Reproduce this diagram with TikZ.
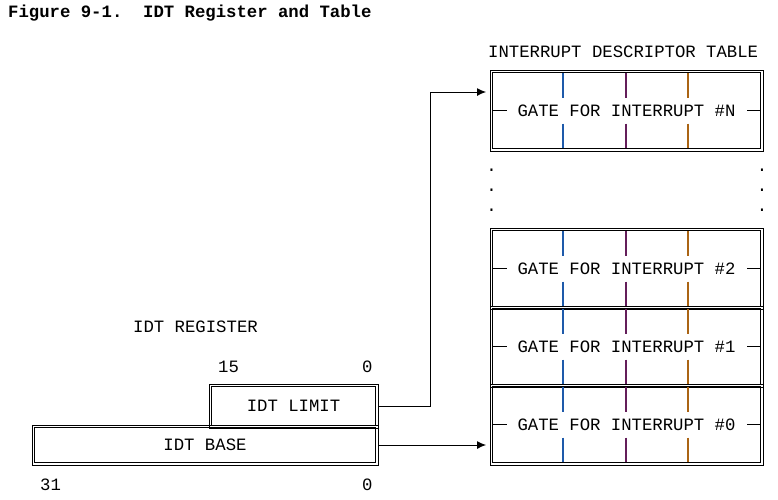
\documentclass[tikz,border=0pt]{standalone}
\usepackage{fontspec}
\setmonofont{Liberation Mono}
\usepackage{tikz}
\usetikzlibrary{arrows.meta}
\definecolor{divColorA}{RGB}{30,90,170}
\definecolor{divColorB}{RGB}{100,30,90}
\definecolor{divColorC}{RGB}{170,100,20}
\begin{document}
\begin{tikzpicture}[x=1pt, y=1pt, font=\ttfamily\fontsize{17.3}{20}\selectfont]

          \tikzstyle{plainLabel} = [inner sep=0pt, anchor=base west];
          \tikzstyle{frameBox} = [draw, line width=0.9pt, inner sep=0pt];
          \tikzstyle{regBox} = [frameBox];
          \tikzstyle{gateBox} = [frameBox, minimum width=273pt, minimum height=81pt];
          \tikzstyle{innerFrame} = [line width=0.9pt];
          \tikzstyle{dotMark} = [inner sep=0pt, anchor=base];

          \tikzstyle{linkEdge} = [line width=0.9pt, -{Latex[length=9pt, width=8pt]}];
          \tikzstyle{tickEdge} = [line width=0.9pt];

          \useasboundingbox (0,0) rectangle (778,-499);

          \node[plainLabel, font=\ttfamily\bfseries\fontsize{17.3}{20}\selectfont] (title) at (8,-17) {Figure 9-1.\ \ IDT Register and Table};

          % register side
          \node[plainLabel] (regLabel) at (133,-332) {IDT REGISTER};
          \node[plainLabel] (bitHiTop) at (218,-372) {15};
          \node[plainLabel] (bitLoTop) at (362,-372) {0};
          \node[plainLabel] (bitHiBot) at (40,-490) {31};
          \node[plainLabel] (bitLoBot) at (362,-490) {0};

          \node[regBox, minimum width=169pt, minimum height=44pt] (limit) at (293.5,-406) {IDT LIMIT};
          \node[regBox, minimum width=346pt, minimum height=40pt] (base) at (205,-445) {IDT BASE};

          % table side
          \node[plainLabel] (tableLabel) at (488,-57) {INTERRUPT DESCRIPTOR TABLE};

          \node[gateBox] (gateN) at (626.5,-110.5) {GATE FOR INTERRUPT \#N};
          \node[gateBox] (gate2) at (626.5,-268.5) {GATE FOR INTERRUPT \#2};
          \node[gateBox] (gate1) at (626.5,-346.5) {GATE FOR INTERRUPT \#1};
          \node[gateBox] (gate0) at (626.5,-424.5) {GATE FOR INTERRUPT \#0};

          % second line of each frame
          \foreach \b in {limit, base, gateN, gate2, gate1, gate0}
            \draw[innerFrame] ([xshift=3pt, yshift=-3pt]\b.north west) rectangle ([xshift=-3pt, yshift=3pt]\b.south east);

          \foreach \cy in {110.5, 268.5, 346.5, 424.5} {
            \foreach \dx/\dc in {563/divColorA, 626/divColorB, 688/divColorC} {
              \draw[\dc, line width=1.2pt] (\dx,-\cy+37.5) -- (\dx,-\cy+13);
              \draw[\dc, line width=1.2pt] (\dx,-\cy-13) -- (\dx,-\cy-37.5);
            }
            \draw[tickEdge] (493,-\cy) -- (507,-\cy);
            \draw[tickEdge] (747,-\cy) -- (760,-\cy);
          }

          \foreach \dy [count=\i] in {171, 191, 211} {
            \node[dotMark] (dotL\i) at (491.5,-\dy) {.};
            \node[dotMark] (dotR\i) at (762,-\dy) {.};
          }

          % links
          \coordinate (jog) at (430,-92);
          \coordinate (gateNIn) at (486,-92);
          \coordinate (gate0In) at (486,-445);

          \draw[linkEdge] (limit.east) -| (jog) -- (gateNIn);
          \draw[linkEdge] (base.east) -- (gate0In);
        \end{tikzpicture}
\end{document}
